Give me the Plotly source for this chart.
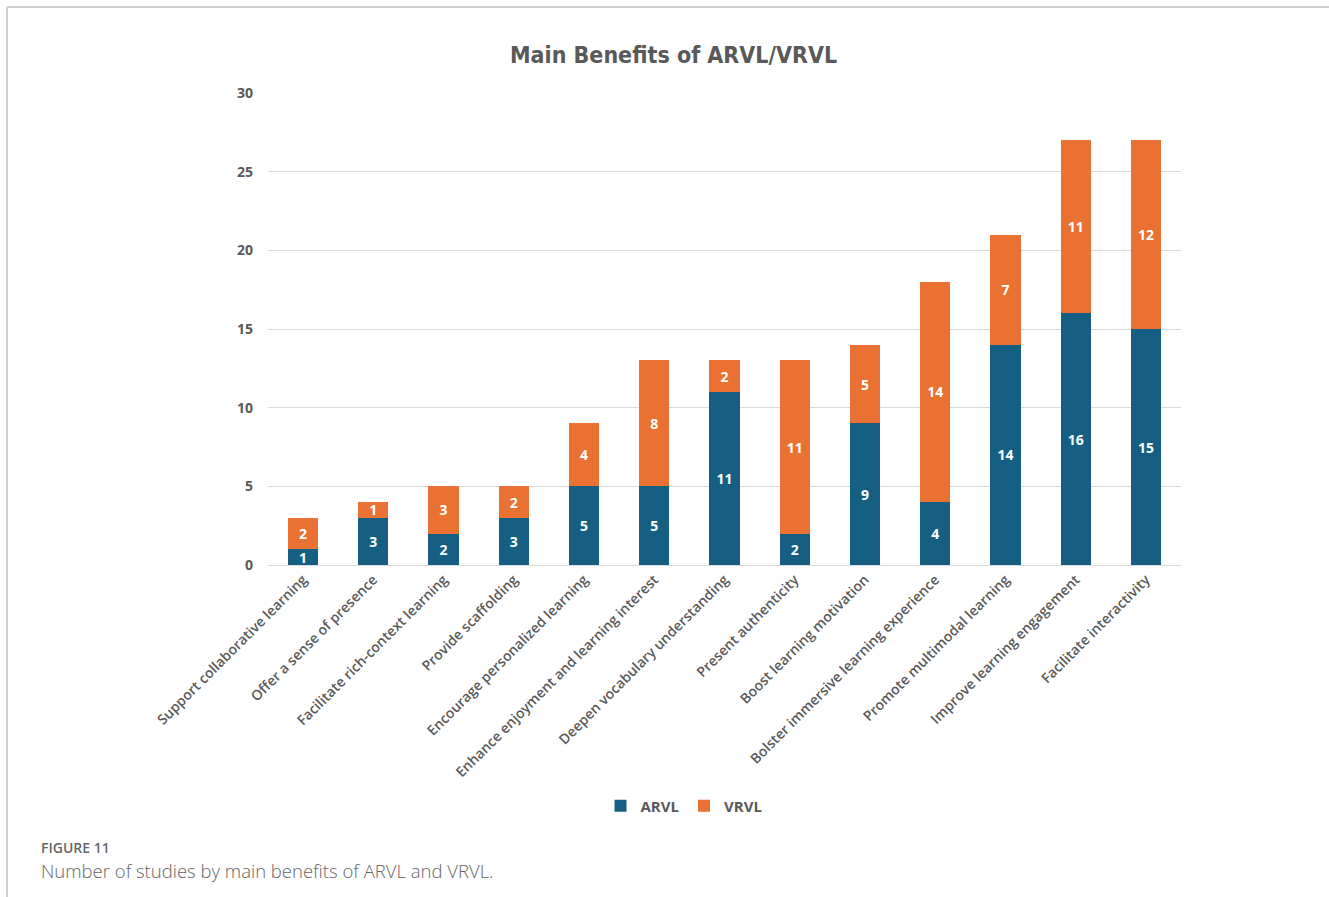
import plotly.graph_objects as go

# Benefit categories and study counts per modality
categories = [
    "Support collaborative learning",
    "Offer a sense of presence",
    "Facilitate rich-context learning",
    "Provide scaffolding",
    "Encourage personalized learning",
    "Enhance enjoyment and learning interest",
    "Deepen vocabulary understanding",
    "Present authenticity",
    "Boost learning motivation",
    "Bolster immersive learning experience",
    "Promote multimodal learning",
    "Improve learning engagement",
    "Facilitate interactivity",
]
arvl = [1, 3, 2, 3, 5, 5, 11, 2, 9, 4, 14, 16, 15]
vrvl = [2, 1, 3, 2, 4, 8, 2, 11, 5, 14, 7, 11, 12]
y_ticks = [0, 5, 10, 15, 20, 25, 30]

W, H = 1329, 897
L, R, T, B = 268, 1181, 93, 565


def px(x):
    return (x - L) / (R - L)


def py(y):
    return (B - y) / (B - T)


BLUE = "#156082"
ORANGE = "#E97132"
GREY_TXT = "#595959"

fig = go.Figure()
for name, vals, col in [("ARVL", arvl, BLUE), ("VRVL", vrvl, ORANGE)]:
    fig.add_trace(go.Bar(
        name=name, x=categories, y=vals, marker=dict(color=col, line=dict(width=0)),
        text=vals, texttemplate="%{text}", textposition="inside",
        insidetextanchor="middle", textangle=0,
        textfont=dict(color="white", size=14, family="Open Sans", weight=700),
    ))

fig.update_layout(
    width=W, height=H, barmode="stack", bargap=0.57,
    margin=dict(l=L, r=W - R, t=T, b=H - B, pad=0),
    paper_bgcolor="white", plot_bgcolor="white",
    uniformtext=dict(minsize=14, mode="show"),
    showlegend=True,
    legend=dict(orientation="h", traceorder="normal", x=px(684), xanchor="center",
                y=py(806), yanchor="middle",
                font=dict(family="Open Sans", size=15, color=GREY_TXT, weight=700),
                itemwidth=30, tracegroupgap=0, bgcolor="rgba(0,0,0,0)"),
    font=dict(family="Open Sans", color=GREY_TXT),
)
fig.update_yaxes(range=[0, 30], tickvals=y_ticks, showgrid=True, gridcolor="#D9D9D9",
                 gridwidth=1, zeroline=False, showline=False, ticks="",
                 ticklabelstandoff=14,
                 tickfont=dict(family="Open Sans", size=14, color=GREY_TXT, weight=700))
fig.update_xaxes(showline=True, linecolor="#D9D9D9", linewidth=1, ticks="",
                 tickangle=-45,
                 tickfont=dict(family="Open Sans", size=14, color=GREY_TXT, weight=600))

# Chart title
fig.add_annotation(text="<b>Main Benefits of ARVL/VRVL</b>", xref="paper", yref="paper",
                   x=px(673), y=py(55), xanchor="center", yanchor="middle", showarrow=False,
                   font=dict(family="DejaVu Sans Condensed", size=23, color=GREY_TXT))

# Figure caption
fig.add_annotation(text="FIGURE 11", xref="paper", yref="paper",
                   x=px(39), y=py(847), xanchor="left", yanchor="middle", showarrow=False,
                   font=dict(family="Open Sans", size=14, color="#666666", weight=600))
fig.add_annotation(text="Number of studies by main benefits of ARVL and VRVL.", xref="paper", yref="paper",
                   x=px(39), y=py(870), xanchor="left", yanchor="middle", showarrow=False,
                   font=dict(family="Open Sans", size=18.5, color="#666666", weight=300))

# Page frame lines
fig.add_shape(type="line", xref="paper", yref="paper", x0=px(7), x1=px(7), y0=py(7), y1=py(897),
              line=dict(color="#CFCFCF", width=2))
fig.add_shape(type="line", xref="paper", yref="paper", x0=px(7), x1=px(1329), y0=py(7), y1=py(7),
              line=dict(color="#CFCFCF", width=2))

fig.write_html("out.html")
